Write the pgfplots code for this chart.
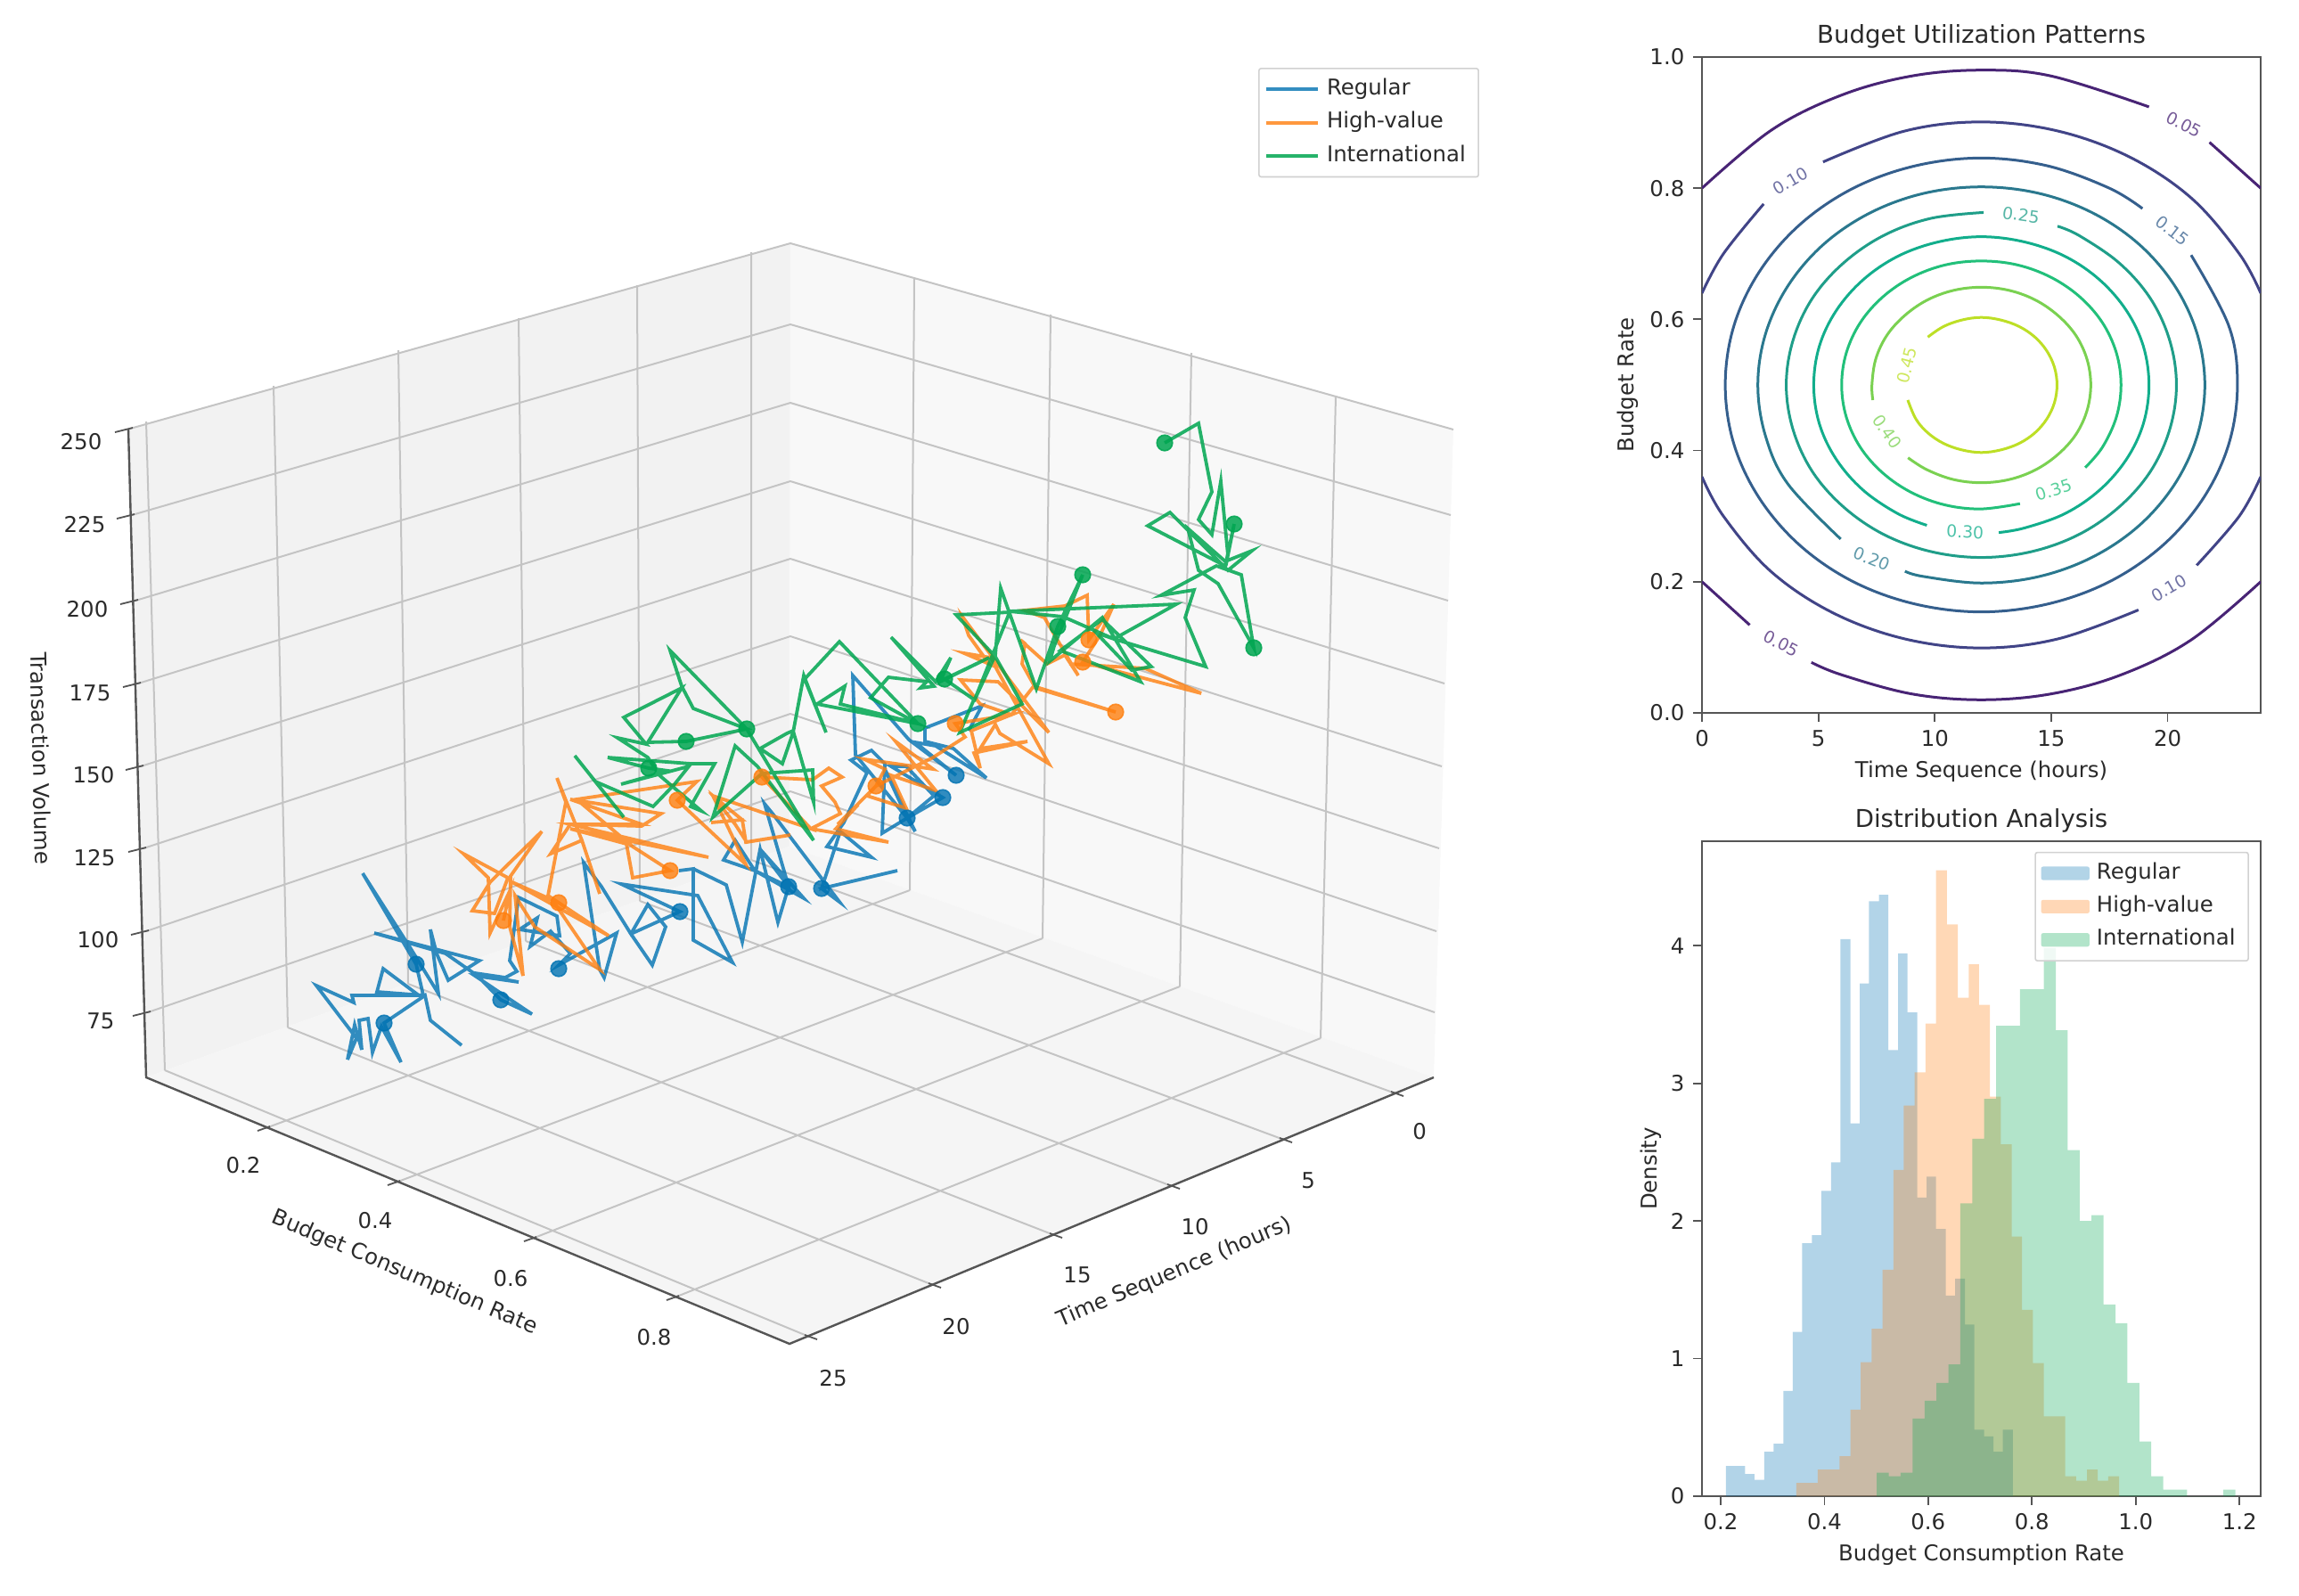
\documentclass[border=0pt]{standalone}
\usepackage{pgfplots}
\pgfplotsset{compat=1.18}
\usepackage{fontspec}
\setmainfont{DejaVu Sans}
\definecolor{cb}{HTML}{0072B2}
\definecolor{co}{HTML}{FF7F0E}
\definecolor{cg}{HTML}{00A651}
\definecolor{txt}{HTML}{2A2A2A}
\definecolor{spn}{HTML}{555555}
\definecolor{grd}{HTML}{C4C4C4}
\definecolor{v05}{HTML}{482475}
\definecolor{v10}{HTML}{414487}
\definecolor{v15}{HTML}{355F8D}
\definecolor{v20}{HTML}{2A788E}
\definecolor{v25}{HTML}{1F9E89}
\definecolor{v30}{HTML}{12AE8C}
\definecolor{v35}{HTML}{22C07A}
\definecolor{v40}{HTML}{7AD151}
\definecolor{v45}{HTML}{BDDF26}
\newcommand{\fs}{\fontsize{6.1}{7.2}\selectfont}
\newcommand{\fcl}{\fontsize{4.7}{5.6}\selectfont}
\tikzset{cl/.style={font=\fcl,inner sep=0pt,opacity=.75}}
\pgfplotsset{
 side/.style={scale only axis,tick align=outside,tick pos=left,
  major tick length=2.4pt,
  axis line style={line width=.55pt,color=spn},
  tick style={line width=.45pt,color=spn},
  ticklabel style={font=\fs,text=txt,/pgf/number format/assume math mode=true},
  label style={font=\fs,text=txt},
  title style={font=\fontsize{6.9}{8}\selectfont,text=txt,yshift=-7.2pt},
  xlabel style={yshift=3pt},ylabel style={yshift=-3.6pt},
  xticklabel style={yshift=1pt},yticklabel style={xshift=1pt}},
 hb/.style={const plot,fill=#1,fill opacity=.3,draw=none}
}
\begin{document}
\begin{tikzpicture}
\path[use as bounding box] (0,0) rectangle (645pt,447.5pt);
% ---- 3D panel, in the picture's pixel frame
\begin{axis}[at={(0,0)},anchor=south west,scale only axis,width=645pt,height=447.5pt,
 xmin=0,xmax=2580,ymin=0,ymax=1790,y dir=reverse,hide axis,clip=false,
 unbounded coords=jump,
 legend style={at={(.5473,.9575)},anchor=north west,draw=black!18,rounded corners=.6pt,
  font=\fs,text=txt,row sep=-.8pt,inner xsep=1.6pt,inner ysep=.8pt,/tikz/every even column/.style={column sep=0pt}},
 legend image code/.code={\draw[#1] (0pt,0pt) -- (14.5pt,0pt);},
 legend cell align=left]
\addplot[forget plot,fill=black!5,draw=none] coordinates {(144,481)(887,273)(886,950)(164,1209)} --cycle;
\addplot[forget plot,fill=black!2.8,draw=none] coordinates {(887,273)(1631,482)(1609,1209)(886,950)} --cycle;
\addplot[forget plot,fill=black!3.8,draw=none] coordinates {(164,1209)(886,950)(1609,1209)(886,1508)} --cycle;
% grid
\addplot[forget plot,grd,line width=.5pt] coordinates {
(146,481)(887,273)(nan,nan)(148,578)(887,364)(nan,nan)(152,674)(887,452)(nan,nan)(155,767)(887,540)(nan,nan)
(158,860)(887,627)(nan,nan)(161,952)(887,714)(nan,nan)(164,1045)(887,801)(nan,nan)(166,1136)(887,888)(nan,nan)
(887,273)(1631,482)(nan,nan)(887,364)(1628,578)(nan,nan)(887,452)(1625,674)(nan,nan)(887,540)(1621,767)(nan,nan)
(887,627)(1618,860)(nan,nan)(887,714)(1615,952)(nan,nan)(887,801)(1612,1045)(nan,nan)(887,888)(1610,1136)(nan,nan)
(164,473)(185,1201)(nan,nan)(307,433)(323,1153)(nan,nan)(447,393)(458,1104)(nan,nan)(582,357)(590,1056)(nan,nan)
(715,320)(718,1011)(nan,nan)(843,283)(843,965)(nan,nan)
(1026,311)(1021,999)(nan,nan)(1179,353)(1170,1053)(nan,nan)(1337,396)(1324,1107)(nan,nan)(1499,444)(1482,1165)(nan,nan)
(185,1201)(908,1500)(nan,nan)(323,1153)(1047,1442)(nan,nan)(458,1104)(1183,1386)(nan,nan)(590,1056)(1315,1331)(nan,nan)
(718,1011)(1441,1279)(nan,nan)(843,965)(1566,1227)(nan,nan)
(298,1266)(1021,999)(nan,nan)(444,1327)(1170,1053)(nan,nan)(597,1390)(1324,1107)(nan,nan)(757,1456)(1482,1165)};
% spines and ticks
\addplot[forget plot,spn,line width=.6pt] coordinates {(144,481)(164,1209)(886,1508)(1609,1209)};
\addplot[forget plot,spn,line width=.45pt] coordinates {
(129,485)(149,480)(nan,nan)(131,582)(151,577)(nan,nan)(135,678)(155,673)(nan,nan)(138,771)(158,766)(nan,nan)
(141,864)(161,859)(nan,nan)(144,956)(164,951)(nan,nan)(147,1049)(167,1044)(nan,nan)(149,1140)(169,1135)(nan,nan)
(1561,1225)(1575,1230)(nan,nan)(1436,1277)(1450,1282)(nan,nan)(1310,1329)(1324,1334)(nan,nan)(1178,1384)(1192,1389)(nan,nan)
(1042,1440)(1056,1445)(nan,nan)(903,1498)(917,1503)(nan,nan)
(303,1264)(289,1269)(nan,nan)(449,1325)(435,1330)(nan,nan)(602,1388)(588,1393)(nan,nan)(762,1454)(748,1459)};
% series
\addplot[cb,line width=.95pt,opacity=.8] coordinates {
(518,1173)(483,1145)(477,1117)(431,1148)(450,1192)(428,1152)(418,1181)(413,1143)(403,1145)(406,1178)(398,1150)(390,1189)(400,1165)(355,1106)(397,1125)(395,1117)(470,1117)(430,1087)(423,1113)(475,1117)(467,1082)(407,980)(460,1063)(492,1115)(483,1043)(490,1070)(503,1100)(538,1078)(420,1047)(500,1070)(533,1093)(582,1102)(533,1095)(597,1138)(562,1122)(533,1092)(567,1097)(580,1090)(572,1078)(582,1007)(625,1028)(628,1050)(583,1043)(603,1030)(595,1062)(618,1045)(640,1070)(627,1083)(692,1047)(678,1097)(673,1088)(655,968)(675,995)(708,1048)(727,1015)(747,1040)(732,1083)(708,1048)(763,1023)(697,992)(783,1005)(822,1080)(778,1055)(778,975)(762,977)(778,975)(815,993)(833,1057)(853,953)(873,1035)(885,995)(847,977)(812,965)(825,943)(847,977)(902,1008)(853,953)(885,995)(858,902)(867,913)(942,1012)(922,997)(1007,977)(922,997)(943,933)(978,962)(928,950)(947,923)(973,867)(955,853)(978,842)(993,857)(990,935)(1018,918)(1027,933)(993,863)(1018,918)(1048,893)(1017,860)(1000,860)(1058,895)(1018,918)(960,847)(957,758)(1020,830)(1073,870)(1027,833)(1050,837)(1107,873)(1070,840)(1038,832)(1038,817)(1102,792)(1087,820)};
\addlegendentry{Regular}
\addplot[co,line width=.95pt,opacity=.8] coordinates {
(565,1033)(572,1000)(550,1047)(548,985)(520,958)(570,985)(555,1025)(530,1022)(550,990)(565,975)(608,933)(573,983)(572,1040)(587,1095)(578,1005)(600,1040)(673,1088)(620,1010)(575,990)(683,1050)(627,1013)(615,1005)(635,900)(625,873)(653,943)(673,1003)(653,943)(618,958)(640,925)(720,927)(742,913)(640,897)(720,925)(640,925)(795,962)(640,930)(703,947)(710,985)(752,977)(710,950)(647,897)(782,877)(760,898)(837,970)(800,893)(833,920)(798,923)(833,920)(837,945)(887,937)(838,945)(825,925)(800,893)(910,930)(855,872)(912,875)(930,862)(945,872)(922,882)(937,900)(943,913)(910,930)(997,945)(938,930)(963,903)(940,925)(983,882)(993,863)(970,852)(1047,863)(1005,832)(1050,887)(1000,870)(1017,907)(973,893)(983,882)(1047,850)(1083,827)(1072,812)(1135,802)(1090,820)(1100,862)(1093,845)(1153,832)(1100,840)(1117,813)(1122,823)(1177,857)(1118,750)(1112,738)(1082,733)(1110,745)(1087,713)(1080,692)(1177,822)(1120,765)(1078,763)(1100,790)(1135,802)(1160,770)(1252,799)(1162,772)(1147,745)(1150,722)(1145,718)(1175,745)(1195,735)(1210,758)(1172,693)(1150,685)(1195,680)(1220,668)(1222,718)(1250,678)(1235,712)(1215,743)(1348,778)(1285,750)(1200,745)};
\addlegendentry{High-value}
\addplot[cg,line width=.95pt,opacity=.85] coordinates {
(645,848)(700,917)(668,877)(733,905)(757,880)(773,860)(697,880)(750,865)(728,862)(682,850)(775,857)(802,857)(775,905)(787,910)(740,870)(727,850)(693,828)(725,835)(700,805)(765,772)(727,833)(770,832)(838,818)(778,795)(765,770)(752,730)(838,818)(913,943)(850,860)(825,837)(800,917)(855,868)(912,864)(913,900)(890,820)(883,823)(853,840)(878,857)(890,822)(902,758)(927,822)(903,762)(942,720)(1030,812)(917,790)(948,770)(943,790)(1030,812)(977,783)(997,760)(1040,765)(1033,772)(1048,770)(1000,715)(1050,765)(1067,738)(1055,765)(1110,738)(1060,762)(1093,785)(1077,822)(1147,790)(1117,737)(1073,690)(1133,687)(1093,787)(1117,735)(1123,660)(1163,773)(1187,703)(1215,645)(1183,725)(1178,742)(1237,693)(1280,765)(1190,730)(1237,695)(1292,748)(1270,752)(1230,710)(1250,717)(1320,678)(1133,686)(1193,692)(1250,717)(1353,748)(1330,693)(1340,662)(1303,668)(1365,635)(1393,645)(1407,727)(1367,655)(1345,640)(1333,593)(1375,630)(1405,618)(1378,640)(1313,575)(1288,590)(1375,635)(1385,588)(1378,623)(1370,540)(1360,600)(1345,583)(1360,552)(1345,475)(1307,497)};
\addlegendentry{International}
\addplot[forget plot,only marks,mark=*,mark size=2.2pt,color=cb,opacity=.8] coordinates {(431,1148)(467,1082)(562,1122)(627,1087)(763,1023)(885,995)(922,997)(1018,918)(1058,895)(1073,870)};
\addplot[forget plot,only marks,mark=*,mark size=2.2pt,color=co,opacity=.8] coordinates {(565,1033)(627,1013)(752,977)(760,898)(855,872)(983,882)(1072,812)(1252,799)(1222,718)(1215,743)};
\addplot[forget plot,only marks,mark=*,mark size=2.2pt,color=cg,opacity=.85] coordinates {(728,862)(770,832)(838,818)(1030,812)(1060,762)(1187,703)(1215,645)(1407,727)(1385,588)(1307,497)};
\tikzset{tl/.style={font=\fs,text=txt}}
\node[tl] at (axis cs:1593,1270) {0};
\node[tl] at (axis cs:1468,1325) {5};
\node[tl] at (axis cs:1341,1377) {10};
\node[tl] at (axis cs:1209,1431) {15};
\node[tl] at (axis cs:1073,1489) {20};
\node[tl] at (axis cs:935,1547) {25};
\node[tl] at (axis cs:273,1308) {0.2};
\node[tl] at (axis cs:421,1370) {0.4};
\node[tl] at (axis cs:573,1435) {0.6};
\node[tl] at (axis cs:734,1501) {0.8};
\node[tl] at (axis cs:91,496) {250};
\node[tl] at (axis cs:95,589) {225};
\node[tl] at (axis cs:98,684) {200};
\node[tl] at (axis cs:101,778) {175};
\node[tl] at (axis cs:105,870) {150};
\node[tl] at (axis cs:106,963) {125};
\node[tl] at (axis cs:110,1055) {100};
\node[tl] at (axis cs:113,1146) {75};
\node[tl,rotate=-88.6] at (axis cs:46,851) {Transaction Volume};
\node[tl,rotate=-23] at (axis cs:454,1428) {Budget Consumption Rate};
\node[tl,rotate=22.8] at (axis cs:1318,1428) {Time Sequence (hours)};
\end{axis}
% ---- contour
\begin{axis}[side,at={(477.5pt,247.5pt)},anchor=south west,width=156.75pt,height=184pt,
 xmin=0,xmax=24,ymin=0,ymax=1,xtick={0,5,10,15,20},ytick={0,.2,.4,.6,.8,1},
 yticklabel style={/pgf/number format/fixed,/pgf/number format/precision=1,/pgf/number format/fixed zerofill},
 title={Budget Utilization Patterns},xlabel={Time Sequence (hours)},ylabel={Budget Rate}]
\pgfplotsset{every axis plot/.append style={line width=.75pt,smooth,tension=.6}}
\addplot[v45] coordinates {(9.70,.573)(10.37,.589)(11.16,.599)(12,.603)(12.84,.599)(13.63,.589)(14.30,.573)(14.81,.552)(15.14,.527)(15.25,.5)(15.14,.473)(14.81,.448)(14.30,.427)(13.63,.411)(12.84,.401)(12,.397)(11.16,.401)(10.37,.411)(9.70,.427)(9.19,.448)(8.84,.477)};
\addplot[v40] coordinates {(8.85,.389)(9.65,.371)(10.78,.356)(12,.351)(13.22,.356)(14.35,.371)(15.32,.395)(16.07,.425)(16.54,.461)(16.7,.5)(16.54,.539)(16.07,.575)(15.32,.605)(14.35,.629)(13.22,.644)(12,.649)(10.78,.644)(9.65,.629)(8.68,.605)(7.93,.575)(7.46,.539)(7.3,.5)(7.34,.477)};
\addplot[v35] coordinates {(16.46,.374)(17.2,.405)(17.8,.451)(18,.5)(17.8,.549)(17.2,.595)(16.24,.634)(15,.664)(13.55,.683)(12,.689)(10.45,.683)(9,.664)(7.76,.634)(6.8,.595)(6.2,.549)(6,.5)(6.2,.451)(6.8,.405)(7.76,.366)(9,.336)(10.45,.317)(12,.311)(13.66,.319)};
\addplot[v30] coordinates {(12.75,.275)(13.86,.282)(15.6,.304)(17.09,.34)(18.24,.387)(18.96,.441)(19.2,.5)(18.96,.559)(18.24,.613)(17.09,.66)(15.6,.696)(13.86,.718)(12,.726)(10.14,.718)(8.4,.696)(6.91,.66)(5.76,.613)(5.04,.559)(4.8,.5)(5.04,.441)(5.76,.387)(6.91,.34)(8.4,.304)(9.66,.286)};
\addplot[v25] coordinates {(12.1,.763)(9.83,.754)(7.81,.728)(6.08,.686)(4.74,.632)(3.91,.568)(3.62,.5)(3.91,.432)(4.74,.368)(6.08,.314)(7.81,.272)(9.83,.246)(12,.237)(14.17,.246)(16.19,.272)(17.92,.314)(19.26,.368)(20.09,.432)(20.38,.5)(20.09,.568)(19.26,.632)(17.92,.686)(16.19,.728)(15.27,.742)};
\addplot[v20] coordinates {(8.72,.216)(9.51,.208)(12,.198)(14.49,.208)(16.8,.238)(18.79,.286)(20.31,.349)(21.27,.422)(21.6,.5)(21.27,.578)(20.31,.651)(18.79,.714)(16.8,.762)(14.49,.792)(12,.802)(9.51,.792)(7.2,.762)(5.21,.714)(3.69,.651)(2.73,.578)(2.4,.5)(2.73,.422)(3.69,.349)(5.96,.265)};
\addplot[v15] coordinates {(18.92,.769)(17.5,.8)(14.85,.834)(12,.846)(9.15,.834)(6.5,.8)(4.22,.745)(2.47,.673)(1.37,.59)(1,.5)(1.37,.41)(2.47,.327)(4.22,.255)(6.5,.2)(9.15,.166)(12,.154)(14.85,.166)(17.5,.2)(19.78,.255)(21.53,.327)(22.63,.41)(23,.5)(22.63,.59)(21.01,.698)};
\addplot[v10] coordinates {(0,.64)(.92,.7)(2.65,.776)};
\addplot[v10] coordinates {(5.2,.84)(8.69,.887)(12,.901)(15.31,.887)(18.4,.847)(21.05,.784)(23.08,.7)(24,.64)};
\addplot[v10] coordinates {(24,.36)(23.08,.3)(21.25,.225)};
\addplot[v10] coordinates {(18.75,.157)(15.31,.113)(12,.099)(8.69,.113)(5.6,.153)(2.95,.216)(.92,.3)(0,.36)};
\addplot[v05] coordinates {(0,.8)(3,.889)(6,.942)(9,.971)(12,.98)(15,.971)(19.2,.924)};
\addplot[v05] coordinates {(21.8,.87)(24,.8)};
\addplot[v05] coordinates {(0,.2)(2.05,.134)};
\addplot[v05] coordinates {(4.7,.077)(6,.058)(9,.029)(12,.02)(15,.029)(18,.058)(21,.111)(24,.2)};
\node[cl,text=v05,rotate=-27] at (axis cs:20.7,.897) {0.05};
\node[cl,text=v05,rotate=-27] at (axis cs:3.4,.106) {0.05};
\node[cl,text=v10,rotate=30] at (axis cs:3.8,.811) {0.10};
\node[cl,text=v10,rotate=30] at (axis cs:20.05,.19) {0.10};
\node[cl,text=v15,rotate=-38] at (axis cs:20.2,.735) {0.15};
\node[cl,text=v20,rotate=-22] at (axis cs:7.3,.235) {0.20};
\node[cl,text=v25,rotate=-8] at (axis cs:13.7,.759) {0.25};
\node[cl,text=v30,rotate=-2] at (axis cs:11.3,.276) {0.30};
\node[cl,text=v35,rotate=18] at (axis cs:15.1,.34) {0.35};
\node[cl,text=v40,rotate=-55] at (axis cs:7.95,.429) {0.40};
\node[cl,text=v45,rotate=75] at (axis cs:8.8,.53) {0.45};
\end{axis}
% ---- histogram
\begin{axis}[side,at={(477.5pt,27.75pt)},anchor=south west,width=156.75pt,height=183.75pt,
 xmin=.164,xmax=1.241,ymin=0,ymax=4.76,xtick={.2,.4,.6,.8,1,1.2},ytick={0,1,2,3,4},
 xticklabel style={/pgf/number format/fixed,/pgf/number format/precision=1,/pgf/number format/fixed zerofill},
 title={Distribution Analysis},xlabel={Budget Consumption Rate},ylabel={Density},
 ylabel style={yshift=-.6pt},
 legend style={at={(.979,.984)},anchor=north east,draw=black!18,rounded corners=.6pt,fill=white,fill opacity=.8,text opacity=1,
  font=\fs,text=txt,row sep=-.8pt,inner xsep=1.6pt,inner ysep=.8pt},
 legend image code/.code={\fill[#1,draw=none] (0pt,-1.9pt) rectangle (13.6pt,1.9pt);},
 legend cell align=left]
\addplot[hb=cb] coordinates {(.21,.219)(.228,.219)(.247,.161)(.265,.119)(.284,.323)(.302,.381)(.321,.765)(.339,1.194)(.357,1.839)(.376,1.897)(.394,2.219)(.413,2.426)(.431,4.048)(.450,2.71)(.468,3.726)(.486,4.323)(.505,4.371)(.523,3.242)(.542,3.945)(.560,3.516)(.579,2.171)(.597,2.323)(.615,1.942)(.634,1.458)(.652,1.581)(.671,1.248)(.689,.484)(.708,.435)(.726,.323)(.744,.484)(.763,.484)} \closedcycle;
\addlegendentry{Regular}
\addplot[hb=co] coordinates {(.346,.097)(.367,.097)(.387,.194)(.408,.194)(.429,.29)(.450,.629)(.470,.974)(.491,1.216)(.512,1.645)(.533,2.371)(.553,2.839)(.574,3.081)(.595,3.435)(.615,4.548)(.636,4.155)(.657,3.623)(.678,3.865)(.698,3.571)(.719,2.903)(.740,2.558)(.761,1.887)(.781,1.355)(.802,.968)(.823,.581)(.844,.581)(.864,.145)(.885,.113)(.906,.194)(.927,.113)(.947,.145)(.968,.145)} \closedcycle;
\addlegendentry{High-value}
\addplot[hb=cg] coordinates {(.501,.171)(.524,.145)(.547,.171)(.570,.565)(.593,.694)(.616,.823)(.639,.958)(.662,2.129)(.685,2.597)(.708,2.887)(.731,3.419)(.754,3.419)(.777,3.684)(.800,3.684)(.823,3.984)(.846,3.387)(.869,2.516)(.892,2.0)(.915,2.042)(.938,1.394)(.961,1.258)(.984,.823)(1.007,.397)(1.030,.145)(1.053,.048)(1.076,.048)(1.099,0)(1.122,0)(1.145,0)(1.169,.048)(1.192,.048)} \closedcycle;
\addlegendentry{International}
\end{axis}
\end{tikzpicture}
\end{document}
